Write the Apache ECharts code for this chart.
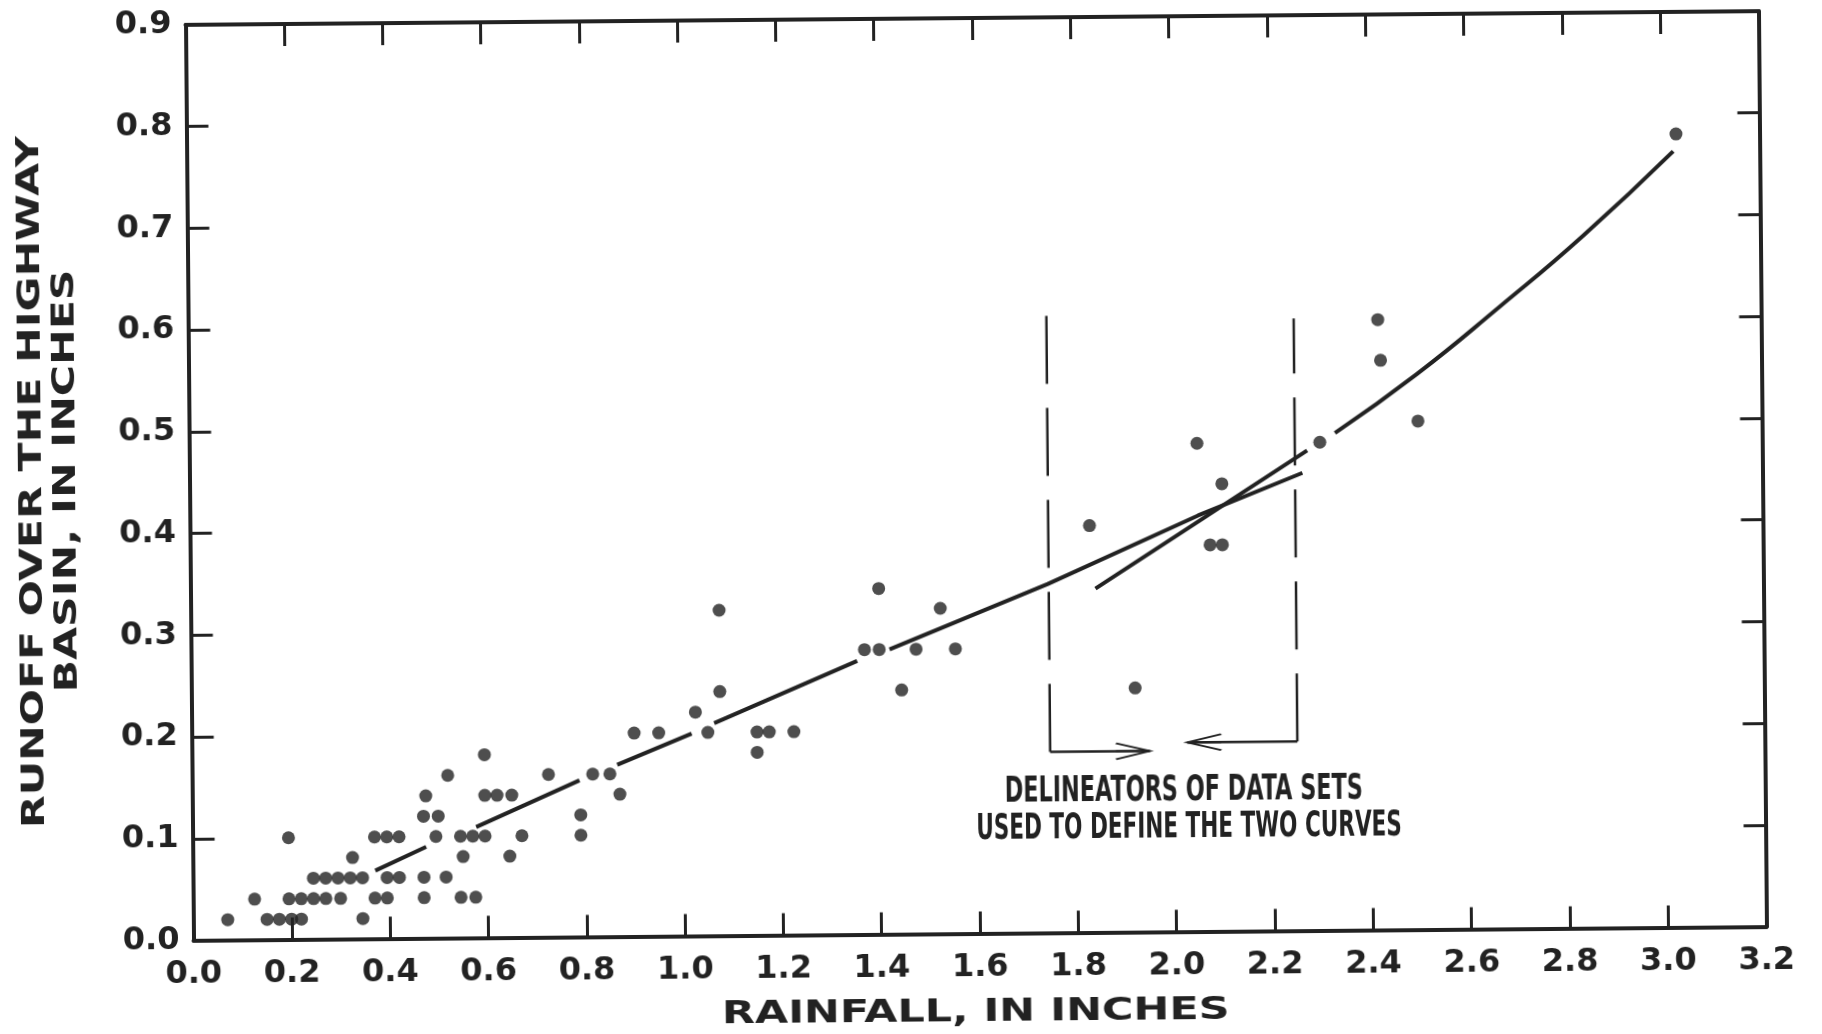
<!DOCTYPE html>
<html>
<head>
<meta charset="utf-8">
<script src="https://cdn.jsdelivr.net/npm/echarts@6/dist/echarts.min.js"></script>
<style>
html,body{margin:0;padding:0;background:#ffffff;overflow:hidden;}
#chart{width:1822px;height:1034px;transform:rotate(-0.5deg);transform-origin:976px 476px;}
</style>
</head>
<body>
<div id="chart"></div>
<script>
// ---- tick labels ----
const xTickLabels = ['0.0','0.2','0.4','0.6','0.8','1.0','1.2','1.4','1.6','1.8','2.0','2.2','2.4','2.6','2.8','3.0','3.2'];
const yTickLabels = ['0.0','0.1','0.2','0.3','0.4','0.5','0.6','0.7','0.8','0.9'];

// ---- observed storms: rainfall (in) and runoff (in) ----
const rainfall = [0.07,0.125,0.15,0.175,0.20,0.22,0.195,0.195,0.22,0.245,0.27,0.30,0.245,0.27,0.295,0.32,0.345,0.325,0.345,
  0.37,0.395,0.42,0.395,0.42,0.37,0.395,0.475,0.47,0.50,0.495,0.47,0.47,0.52,0.515,0.545,0.57,0.595,0.55,0.545,0.575,
  0.595,0.595,0.62,0.65,0.725,0.67,0.645,0.79,0.79,0.815,0.85,0.87,0.90,0.95,1.025,1.05,1.075,1.075,1.15,1.175,1.15,1.225,
  1.37,1.40,1.40,1.475,1.555,1.525,1.445,1.83,1.92,2.05,2.10,2.075,2.10,2.30,2.42,2.425,2.50,3.03];
const runoff = [0.02,0.04,0.02,0.02,0.02,0.02,0.10,0.04,0.04,0.04,0.04,0.04,0.06,0.06,0.06,0.06,0.06,0.08,0.02,
  0.10,0.10,0.10,0.06,0.06,0.04,0.04,0.14,0.12,0.12,0.10,0.06,0.04,0.16,0.06,0.10,0.10,0.10,0.08,0.04,0.04,
  0.18,0.14,0.14,0.14,0.16,0.10,0.08,0.10,0.12,0.16,0.16,0.14,0.20,0.20,0.22,0.20,0.32,0.24,0.20,0.20,0.18,0.20,
  0.28,0.28,0.34,0.28,0.28,0.32,0.24,0.40,0.24,0.48,0.44,0.38,0.38,0.48,0.60,0.56,0.50,0.78];

// ---- fitted curves (null = pen gap) ----
const curveA_x = [0.371,0.475,null,0.577,0.788,null,0.865,1.017,null,1.063,1.355,null,1.421,1.744,2.051,2.264];
const curveA_y = [0.067,0.090,null,0.109,0.154,null,0.169,0.199,null,0.209,0.269,null,0.280,0.343,0.409,0.450];
const curveB_x = [1.841,2.274,null,2.331,2.498,2.669,2.840,3.024];
const curveB_y = [0.338,0.472,null,0.489,0.546,0.612,0.681,0.763];

// ---- delineators of data sets ----
const delimLeft_x  = [1.746,1.746];
const delimLeft_y  = [0.178,0.621];
const arrowLeft_x  = [1.746,1.949];
const arrowLeft_y  = [0.178,0.178];
const delimRight_x = [2.249,2.249];
const delimRight_y = [0.186,0.602];
const arrowRight_x = [2.249,2.025];
const arrowRight_y = [0.186,0.186];

const noteLines = ['DELINEATORS OF DATA SETS','USED TO DEFINE THE TWO CURVES'];
const xTitle = 'RAINFALL, IN INCHES';
const yTitleLines = ['RUNOFF OVER THE HIGHWAY','BASIN, IN INCHES'];

// ---- styles ----
const INK = '#222222';
const FONT = '"DejaVu Sans", sans-serif';
const TITLE_FONT = 'bold 32px "DejaVu Sans", sans-serif';
const NOTE_FONT = 'bold 35px "DejaVu Sans Condensed", "DejaVu Sans", sans-serif';
const arrowPath = 'path://M0,0L34,8L0,16M0,8L34,8';

function pairs(xs, ys){
  return xs.map((x,i)=> (x==null||ys[i]==null) ? ['-','-'] : [x, ys[i]]);
}
function arrowData(xs, ys, dir){
  return xs.map((x,i)=>{
    if(i < xs.length-1) return {value:[x,ys[i]], symbol:'none'};
    return {value:[x,ys[i]], symbol:arrowPath, symbolSize:[34,16],
      symbolRotate: dir>0?0:180, symbolOffset:[dir>0?-17:17,0],
      itemStyle:{color:'transparent', borderColor:INK, borderWidth:2.5}};
  });
}
function label(text, x, y, rot, sx){
  return {type:'text', x:x, y:y, rotation:rot, scaleX:sx, scaleY:1, silent:true,
    style:{text:text, x:0, y:0, align:'center', verticalAlign:'middle', font:TITLE_FONT, fill:INK}};
}

const axisLineStyle = {show:true, onZero:false, lineStyle:{color:INK, width:4}};
const tickStyle = {show:true, inside:true, length:22, lineStyle:{color:INK, width:3}};

const chart = echarts.init(document.getElementById('chart'), null, {renderer:'canvas'});
chart.setOption({
  backgroundColor:'#ffffff',
  animation:false,
  grid:{left:189.5, right:59.5, top:18, bottom:100.5, containLabel:false, outerBoundsMode:'none'},
  xAxis:[
    {type:'value', position:'bottom', min:0, max:3.2, interval:0.2,
     axisLine:axisLineStyle, axisTick:tickStyle, splitLine:{show:false},
     axisLabel:{margin:18, color:INK, fontFamily:FONT, fontWeight:'bold', fontSize:32,
       formatter:v=>xTickLabels[Math.round(v/0.2)]}},
    {type:'value', position:'top', min:0, max:3.2, interval:0.2,
     axisLine:axisLineStyle, axisTick:tickStyle, splitLine:{show:false}, axisLabel:{show:false}}
  ],
  yAxis:[
    {type:'value', position:'left', min:0, max:0.9, interval:0.1,
     axisLine:axisLineStyle, axisTick:tickStyle, splitLine:{show:false},
     axisLabel:{margin:14, color:INK, fontFamily:FONT, fontWeight:'bold', fontSize:32,
       formatter:v=>yTickLabels[Math.round(v/0.1)]}},
    {type:'value', position:'right', min:0, max:0.9, interval:0.1,
     axisLine:axisLineStyle, axisTick:tickStyle, splitLine:{show:false}, axisLabel:{show:false}}
  ],
  series:[
    {type:'line', data:pairs(curveA_x,curveA_y), symbol:'none', connectNulls:false,
     lineStyle:{color:INK, width:4}, silent:true},
    {type:'line', data:pairs(curveB_x,curveB_y), symbol:'none', connectNulls:false, smooth:0.5,
     lineStyle:{color:INK, width:4}, silent:true},
    {type:'line', data:pairs(delimLeft_x,delimLeft_y), symbol:'none',
     lineStyle:{color:INK, width:2.5, type:[68,24]}, silent:true},
    {type:'line', data:pairs(delimRight_x,delimRight_y), symbol:'none',
     lineStyle:{color:INK, width:2.5, type:[68,24]}, silent:true},
    {type:'line', data:arrowData(arrowLeft_x,arrowLeft_y,1), showSymbol:true, symbol:'none',
     lineStyle:{color:INK, width:2.5}, silent:true},
    {type:'line', data:arrowData(arrowRight_x,arrowRight_y,-1), showSymbol:true, symbol:'none',
     lineStyle:{color:INK, width:2.5}, silent:true},
    {type:'scatter', data:pairs(rainfall,runoff), symbol:'circle', symbolSize:13,
     itemStyle:{color:INK}, silent:true, z:5}
  ],
  graphic:[
    label(xTitle, 971, 1013, 0, 1.34),
    label(yTitleLines[0], 33, 474, Math.PI/2, 1.33),
    label(yTitleLines[1], 67, 473, Math.PI/2, 1.33),
    {type:'text', x:1181, y:793, scaleX:0.71, scaleY:1, silent:true,
     style:{text:noteLines[0], x:0, y:0, align:'center', verticalAlign:'middle', font:NOTE_FONT, fill:INK}},
    {type:'text', x:1186, y:830, scaleX:0.685, scaleY:1, silent:true,
     style:{text:noteLines[1], x:0, y:0, align:'center', verticalAlign:'middle', font:NOTE_FONT, fill:INK}}
  ]
});
</script>
</body>
</html>
